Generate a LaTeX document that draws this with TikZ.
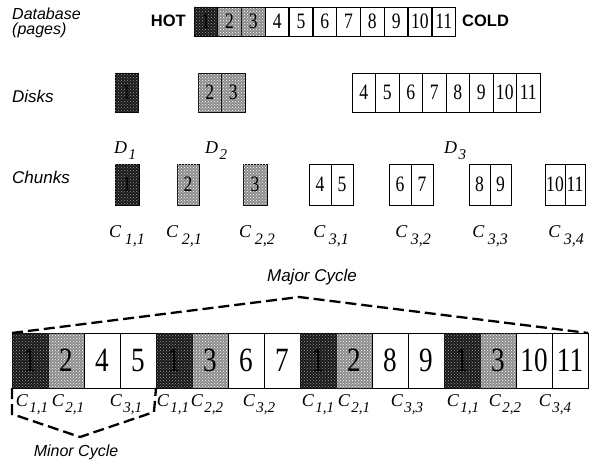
\documentclass[tikz,border=0pt]{standalone}
\usepackage{fontspec}
\setmainfont{Liberation Serif}
\setsansfont{Liberation Sans}
\newfontfamily\digfont[FakeStretch=0.8]{Liberation Serif}
\usetikzlibrary{patterns}
\newcommand\clab[2]{{\itshape #1}\kern1.5pt\raisebox{-6pt}{\fontsize{15}{15}\selectfont\itshape #2}}
\newcommand\wlab[2]{{\itshape #1}\kern3.5pt\raisebox{-7pt}{\fontsize{16}{16}\selectfont\itshape #2}}
\tikzset{
  pg/.style={draw, line width=0.9pt, minimum height=29pt, minimum width=23.5pt, inner sep=0pt, outer sep=0pt, anchor=north west, font=\digfont\fontsize{22}{22}\selectfont},
  dk/.style={fill=black!90, postaction={pattern=crosshatch dots, pattern color=white!60!black}},
  lt/.style={fill=black!45, postaction={pattern=crosshatch dots, pattern color=white}},
  lab/.style={font=\sffamily\itshape\fontsize{17}{17}\selectfont, anchor=west, inner sep=0pt, align=left},
  cyclab/.style={font=\sffamily\itshape\fontsize{17}{17}\selectfont, inner sep=0pt},
  bold/.style={font=\sffamily\bfseries\fontsize{16.5}{16.5}\selectfont, inner sep=0pt},
  sub/.style={font=\fontsize{18}{18}\selectfont, inner sep=0pt},
  big/.style={pg, minimum width=36pt, minimum height=55pt, font=\digfont\fontsize{34}{34}\selectfont},
  cyc/.style={dash pattern=on 11pt off 5pt, line width=2.3pt},
}
\begin{document}
\begin{tikzpicture}[x=1pt,y=-1pt]
\useasboundingbox[fill=white] (0,0) rectangle (589,460);
% row labels
\node[lab, font=\sffamily\itshape\fontsize{16}{13}\selectfont, anchor=base west] (ldb) at (12,20) {Database};
\node[lab, font=\sffamily\itshape\fontsize{16}{13}\selectfont, anchor=base west] (lpg) at (12,35) {(pages)};
\node[lab] (ldk) at (12,96) {Disks};
\node[lab] (lch) at (12,177) {Chunks};
% database row
\node[bold, anchor=east] (hot) at (186,21) {HOT};
\node[pg,dk] (t1) at (194,7) {1};
\node[pg,lt] (t2) at (217.8,7) {2};
\node[pg,lt] (t3) at (241.6,7) {3};
\foreach \i in {4,...,11}{
  \node[pg] (t\i) at ({194+(\i-1)*23.8},7) {\i};
}
\node[bold, anchor=west] (cold) at (462,21) {COLD};
% disks row
\node[pg,dk,minimum height=39pt] (d1) at (115,73) {1};
\node[pg,lt,minimum height=39pt] (d2a) at (198,73) {2};
\node[pg,lt,minimum height=39pt] (d2b) at (221.5,73) {3};
\foreach \i in {4,...,11}{
  \node[pg,minimum height=39pt] (d3\i) at ({352+(\i-4)*23.5},73) {\i};
}
\node[sub] (dl1) at (125,151) {\clab{D}{1}};
\node[sub] (dl2) at (216,151) {\clab{D}{2}};
\node[sub] (dl3) at (455,151) {\clab{D}{3}};
% chunks row
\node[pg,dk,minimum height=41pt,minimum width=24pt] (c11) at (115,164) {1};
\node[pg,lt,minimum height=41pt,minimum width=22pt] (c21) at (177,164) {2};
\node[pg,lt,minimum height=41pt,minimum width=24pt] (c22) at (243,164) {3};
\node[pg,minimum height=41pt,minimum width=22pt] (c31a) at (309,164) {4};
\node[pg,minimum height=41pt,minimum width=22pt] (c31b) at (331,164) {5};
\node[pg,minimum height=41pt,minimum width=22pt] (c32a) at (389,164) {6};
\node[pg,minimum height=41pt,minimum width=22pt] (c32b) at (411,164) {7};
\node[pg,minimum height=41pt,minimum width=21pt] (c33a) at (469,164) {8};
\node[pg,minimum height=41pt,minimum width=21pt] (c33b) at (490,164) {9};
\node[pg,minimum height=41pt,minimum width=20pt] (c34a) at (545,164) {10};
\node[pg,minimum height=41pt,minimum width=20pt] (c34b) at (565,164) {11};
\node[sub] (cl11) at (127,236) {\wlab{C}{1,1}};
\node[sub] (cl21) at (184,236) {\wlab{C}{2,1}};
\node[sub] (cl22) at (257,236) {\wlab{C}{2,2}};
\node[sub] (cl31) at (331,236) {\wlab{C}{3,1}};
\node[sub] (cl32) at (413,236) {\wlab{C}{3,2}};
\node[sub] (cl33) at (490,236) {\wlab{C}{3,3}};
\node[sub] (cl34) at (566,236) {\wlab{C}{3,4}};
% schedule row
\node[big,dk] (b1) at (12,333) {1};
\node[big,lt] (b2) at (48,333) {2};
\node[big] (b3) at (84,333) {4};
\node[big] (b4) at (120,333) {5};
\node[big,dk] (b5) at (156,333) {1};
\node[big,lt] (b6) at (192,333) {3};
\node[big] (b7) at (228,333) {6};
\node[big] (b8) at (264,333) {7};
\node[big,dk] (b9) at (300,333) {1};
\node[big,lt] (b10) at (336,333) {2};
\node[big] (b11) at (372,333) {8};
\node[big] (b12) at (408,333) {9};
\node[big,dk] (b13) at (444,333) {1};
\node[big,lt] (b14) at (480,333) {3};
\node[big] (b15) at (516,333) {10};
\node[big] (b16) at (552,333) {11};
% schedule labels
\node[sub] (s1) at (32,405) {\clab{C}{1,1}};
\node[sub] (s2) at (68,405) {\clab{C}{2,1}};
\node[sub] (s3) at (126,405) {\clab{C}{3,1}};
\node[sub] (s4) at (173,405) {\clab{C}{1,1}};
\node[sub] (s5) at (207,405) {\clab{C}{2,2}};
\node[sub] (s6) at (259,405) {\clab{C}{3,2}};
\node[sub] (s7) at (318,405) {\clab{C}{1,1}};
\node[sub] (s8) at (354,405) {\clab{C}{2,1}};
\node[sub] (s9) at (407,405) {\clab{C}{3,3}};
\node[sub] (s10) at (463,405) {\clab{C}{1,1}};
\node[sub] (s11) at (505,405) {\clab{C}{2,2}};
\node[sub] (s12) at (555,405) {\clab{C}{3,4}};
% major cycle
\coordinate (apex) at (299,297);
\draw[cyc] (b1.north west) -- (apex) -- (b16.north east);
\node[cyclab] (major) at (312,277) {Major Cycle};
% minor cycle
\coordinate (mnl) at (12,414);
\coordinate (mnv) at (80,437);
\coordinate (mnr) at (154,412);
\draw[cyc] (b1.south west) -- (mnl) -- (mnv) -- (mnr) -- (b4.south east);
\node[cyclab, font=\sffamily\itshape\fontsize{16}{16}\selectfont] (minor) at (76,452) {Minor Cycle};
\end{tikzpicture}
\end{document}
